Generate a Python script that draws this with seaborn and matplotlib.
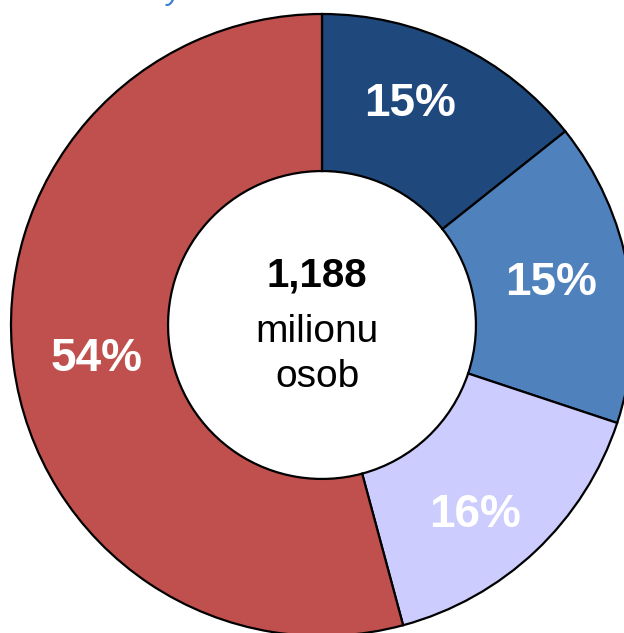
import numpy as np
import matplotlib
matplotlib.use("Agg")
import matplotlib.pyplot as plt
import seaborn as sns

# share of population per group, start at 12 o'clock, clockwise
shares = [14.3, 15.8, 15.7, 54.2]
pct_labels = ["15%", "15%", "16%", "54%"]
colors = ["#1F497D", "#4F81BD", "#CCCCFF", "#C0504D"]
center_lines = ["1,188", "milionu", "osob"]

sns.set_theme(style="white")
plt.rcParams["font.family"] = ["Liberation Sans", "DejaVu Sans"]

fig = plt.figure(figsize=(6.24, 6.33), dpi=100)
ax = fig.add_axes([0, 0, 1, 1])

R = 311.0  # outer radius in pixels
cx, cy = 322.0, 325.0  # donut centre in pixels (from top-left)

wedges, _ = ax.pie(shares, colors=colors, startangle=90, counterclock=False,
                   radius=1.0,
                   wedgeprops=dict(width=0.505, edgecolor="black", linewidth=1.6))

# percentage labels roughly mid-segment; small hand nudges like the original
label_r = [0.766, 0.749, 0.784, 0.732]
label_nudge = [4.0, 0.3, -4.6, 1.0]  # degrees, counter-clockwise
for w, lab, r, dn in zip(wedges, pct_labels, label_r, label_nudge):
    mid = np.deg2rad((w.theta1 + w.theta2) / 2 + dn)
    ax.text(r * np.cos(mid), r * np.sin(mid), lab, ha="center", va="center",
            color="white", fontsize=33, fontweight="bold")

# text in the hole
tx = -5 / R
ax.text(tx, 0.125, center_lines[0], ha="center", va="baseline", fontsize=29,
        fontweight="bold", color="black")
ax.text(tx, -0.055, center_lines[1], ha="center", va="baseline", fontsize=28, color="black")
ax.text(tx, -0.199, center_lines[2], ha="center", va="baseline", fontsize=28, color="black")

ax.set_xlim(-cx / R, (624 - cx) / R)
ax.set_ylim(-(633 - cy) / R, cy / R)
ax.set_aspect("equal")
ax.axis("off")

# tail of the clipped title above the chart
fig.text(174 / 624, 1 + 1.5 / 633, "y", ha="center", va="baseline", fontsize=22,
         style="italic", color="#3A7FD5")

fig.savefig("out.png", dpi=100)
